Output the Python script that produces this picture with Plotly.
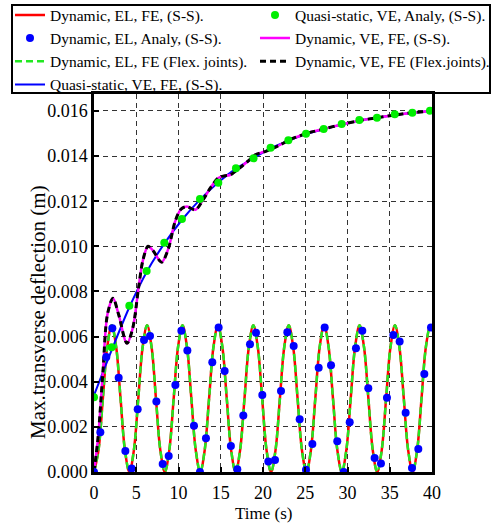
import plotly.graph_objects as go

# ---- Dynamic, elastic (EL) finite-element response, simply supported ----
el_fe_time = [0, 0.524, 1.048, 1.571, 2.095, 2.619, 3.143, 3.666, 4.19, 4.714, 5.238, 5.761,
              6.285, 6.809, 7.333, 7.856, 8.38, 8.904, 9.428, 9.951, 10.475, 10.999, 11.523,
              12.046, 12.57, 13.094, 13.618, 14.141, 14.665, 15.189, 15.713, 16.236, 16.76,
              17.284, 17.808, 18.331, 18.855, 19.379, 19.903, 20.426, 20.95, 21.474, 21.998,
              22.521, 23.045, 23.569, 24.093, 24.616, 25.14, 25.664, 26.188, 26.711, 27.235,
              27.759, 28.283, 28.806, 29.33, 29.854, 30.378, 30.901, 31.425, 31.949, 32.473,
              32.996, 33.52, 34.044, 34.568, 35.091, 35.615, 36.139, 36.663, 37.186, 37.71,
              38.234, 38.758, 39.281, 39.805, 40.0]
el_fe_defl = [0.0, 0.00095, 0.00325, 0.00555, 0.0065, 0.00555, 0.00325, 0.00095,
              0.0, 0.00095, 0.00325, 0.00555, 0.0065, 0.00555, 0.00325, 0.00095,
              0.0, 0.00095, 0.00325, 0.00555, 0.0065, 0.00555, 0.00325, 0.00095,
              0.0, 0.00095, 0.00325, 0.00555, 0.0065, 0.00555, 0.00325, 0.00095,
              0.0, 0.00095, 0.00325, 0.00555, 0.0065, 0.00555, 0.00325, 0.00095,
              0.0, 0.00095, 0.00325, 0.00555, 0.0065, 0.00555, 0.00325, 0.00095,
              0.0, 0.00095, 0.00325, 0.00555, 0.0065, 0.00555, 0.00325, 0.00095,
              0.0, 0.00095, 0.00325, 0.00555, 0.0065, 0.00555, 0.00325, 0.00095,
              0.0, 0.00095, 0.00325, 0.00555, 0.0065, 0.00555, 0.00325, 0.00095,
              0.0, 0.00095, 0.00325, 0.00555, 0.0065, 0.0064]

# ---- Dynamic, elastic, FE with flexible joints ----
el_flex_time = el_fe_time
el_flex_defl = el_fe_defl

# ---- Dynamic, elastic, analytical solution ----
el_an_time = [0, 0.75, 1.46, 2.17, 2.92, 3.71, 4.46, 5.17, 5.92, 6.63, 7.38, 8.13, 8.84, 9.63,
              10.34, 11.05, 11.83, 12.54, 13.25, 14.0, 14.75, 15.46, 16.2, 16.96, 17.67, 18.46,
              19.17, 19.92, 20.63, 21.42, 22.13, 22.88, 23.63, 24.34, 25.09, 25.84, 26.59, 27.3,
              28.05, 28.79, 29.55, 30.26, 31.0, 31.75, 32.46, 33.21, 33.96, 34.67, 35.42, 36.17,
              36.88, 37.63, 38.38, 39.09, 39.88]
el_an_defl = [0.0, 0.00176, 0.0051, 0.00637, 0.00418, 0.00093, 0.00016, 0.00278, 0.00585,
              0.00603, 0.00312, 0.00035, 0.00071, 0.00386, 0.00626, 0.00538, 0.00205, 0.0,
              0.00149, 0.00486, 0.0064, 0.00448, 0.00115, 0.00012, 0.0025, 0.00566, 0.00617,
              0.00341, 0.00046, 0.00053, 0.00359, 0.00619, 0.00558, 0.00234, 0.0001, 0.00124,
              0.00462, 0.0064, 0.00473, 0.00136, 0.0, 0.0022, 0.00548, 0.00626, 0.00371,
              0.00062, 0.00038, 0.00329, 0.00607, 0.00578, 0.00263, 0.00018, 0.00102, 0.00434,
              0.0064]

# ---- Quasi-static, viscoelastic (VE): analytical and FE ----
qs_an_time = [0, 2.09, 4.18, 6.23, 8.32, 10.41, 12.54, 14.71, 16.8, 18.88, 20.9, 23.0, 25.09,
              27.18, 29.31, 31.4, 33.49, 35.59, 37.67, 39.76]
qs_an_defl = [0.00331, 0.00553, 0.00737, 0.00891, 0.01016, 0.01121, 0.0121, 0.01282, 0.01346,
              0.0139, 0.01437, 0.0147, 0.01499, 0.0152, 0.01542, 0.0156, 0.0157, 0.01585,
              0.01592, 0.01601]

qs_fe_time = [0, 2.09, 4.18, 6.28, 8.38, 10.47, 12.57, 14.66, 16.76, 18.85, 20.95, 23.04,
              25.14, 27.23, 29.33, 31.42, 33.52, 35.61, 37.71, 40.0]
qs_fe_defl = [0.0034, 0.0054, 0.0073, 0.0089, 0.01015, 0.0112, 0.01208, 0.01282, 0.01343,
              0.0139, 0.01435, 0.01468, 0.01497, 0.0152, 0.0154, 0.01557, 0.0157, 0.01582,
              0.01592, 0.016]

# ---- Dynamic, viscoelastic, FE (simply supported and flexible joints) ----
ve_fe_time = [0, 0.5, 1.05, 1.6, 2.25, 2.9, 3.9, 4.6, 5.25, 5.8, 6.4, 7.0, 8.0, 8.8, 9.6, 10.3,
              11.0, 12.0, 12.9, 13.8, 14.7, 15.4, 16.1, 16.8, 17.5, 18.3, 19.05, 19.8, 20.4,
              21.2, 22.0, 22.8, 23.6, 24.4, 25.2, 27.2, 29.3, 31.4, 33.5, 35.6, 37.7, 40.0]
ve_fe_defl = [0.0, 0.0016, 0.0044, 0.007, 0.0077, 0.007, 0.0057, 0.0064, 0.0081, 0.0094, 0.01,
              0.0098, 0.0093, 0.0099, 0.0111, 0.01165, 0.01176, 0.01162, 0.01206, 0.0126,
              0.01303, 0.01312, 0.01316, 0.01335, 0.01355, 0.0138, 0.01405, 0.01415, 0.01422,
              0.01435, 0.01449, 0.01465, 0.01479, 0.0149, 0.01501, 0.0152, 0.0154, 0.01557,
              0.0157, 0.01582, 0.01592, 0.016]
ve_flex_time = ve_fe_time
ve_flex_defl = ve_fe_defl

x_ticks = [0, 5, 10, 15, 20, 25, 30, 35, 40]
y_ticks = [0.0, 0.002, 0.004, 0.006, 0.008, 0.010, 0.012, 0.014, 0.016]

SERIF = "Liberation Serif, Times New Roman, serif"

fig = go.Figure()

fig.add_trace(go.Scatter(
    x=el_fe_time, y=el_fe_defl, mode="lines", name="Dynamic, EL, FE, (S-S).",
    line=dict(color="#ff0000", width=2.5, shape="spline", smoothing=1),
    legend="legend", legendrank=1))
fig.add_trace(go.Scatter(
    x=el_flex_time, y=el_flex_defl, mode="lines", name="Dynamic, EL, FE (Flex. joints).",
    line=dict(color="#22e822", width=2.5, dash="7px,4px", shape="spline", smoothing=1),
    legend="legend", legendrank=3))
fig.add_trace(go.Scatter(
    x=qs_fe_time, y=qs_fe_defl, mode="lines", name="Quasi-static, VE, FE, (S-S).",
    line=dict(color="#0000ff", width=2, shape="spline", smoothing=0.8),
    legend="legend", legendrank=4))
fig.add_trace(go.Scatter(
    x=ve_fe_time, y=ve_fe_defl, mode="lines", name="Dynamic, VE, FE, (S-S).",
    line=dict(color="#ff00ff", width=2.5, shape="spline", smoothing=0.9),
    legend="legend2", legendrank=2))
fig.add_trace(go.Scatter(
    x=ve_flex_time, y=ve_flex_defl, mode="lines", name="Dynamic, VE, FE (Flex.joints).",
    line=dict(color="#000000", width=3, dash="6px,4px", shape="spline", smoothing=0.9),
    legend="legend2", legendrank=3))
fig.add_trace(go.Scatter(
    x=el_an_time, y=el_an_defl, mode="markers", name="Dynamic, EL, Analy, (S-S).",
    marker=dict(color="#0000ff", size=8),
    legend="legend", legendrank=2))
fig.add_trace(go.Scatter(
    x=qs_an_time, y=qs_an_defl, mode="markers", name="Quasi-static, VE, Analy, (S-S).",
    marker=dict(color="#00ee00", size=8),
    legend="legend2", legendrank=1))

axis_common = dict(
    showline=True, linecolor="black", linewidth=2.5, mirror=True,
    ticks="inside", ticklen=5, tickwidth=1.5, tickcolor="black",
    showgrid=True, gridcolor="#333333", gridwidth=1, griddash="5px,4px",
    zeroline=False,
    tickfont=dict(family=SERIF, size=18, color="black"),
)

fig.update_xaxes(range=[0, 40], tickvals=x_ticks, ticktext=[str(v) for v in x_ticks],
                 ticklabelstandoff=3, **axis_common)
fig.update_yaxes(range=[0, 0.01675], tickvals=y_ticks,
                 ticktext=[f"{v:.3f}" for v in y_ticks], **axis_common)

legend_common = dict(
    orientation="v", yanchor="top", xanchor="left", y=1.253,
    bgcolor="rgba(0,0,0,0)", borderwidth=0, tracegroupgap=0,
    font=dict(family=SERIF, size=15.5, color="black"), itemwidth=30,
)

fig.update_layout(
    width=495, height=527,
    margin=dict(l=94, r=63, t=94, b=55, autoexpand=False),
    paper_bgcolor="white", plot_bgcolor="white",
    showlegend=True,
    legend=dict(x=-0.2485, **legend_common),
    legend2=dict(x=0.4763, **legend_common),
    shapes=[dict(type="rect", xref="paper", yref="paper",
                 x0=-0.2426, x1=1.1716, y0=1.0026, y1=1.2354,
                 line=dict(color="black", width=2), fillcolor="rgba(0,0,0,0)")],
    annotations=[
        dict(text="Time (s)", xref="paper", yref="paper", x=0.5, y=-0.1085,
             xanchor="center", yanchor="middle", showarrow=False,
             font=dict(family=SERIF, size=17, color="black")),
        dict(text="Max.transverse deflection (m)", xref="paper", yref="paper",
             x=-0.166, y=0.423, xanchor="center", yanchor="middle", textangle=-90,
             showarrow=False, font=dict(family=SERIF, size=21, color="black")),
    ],
)

fig.write_html("out.html")
